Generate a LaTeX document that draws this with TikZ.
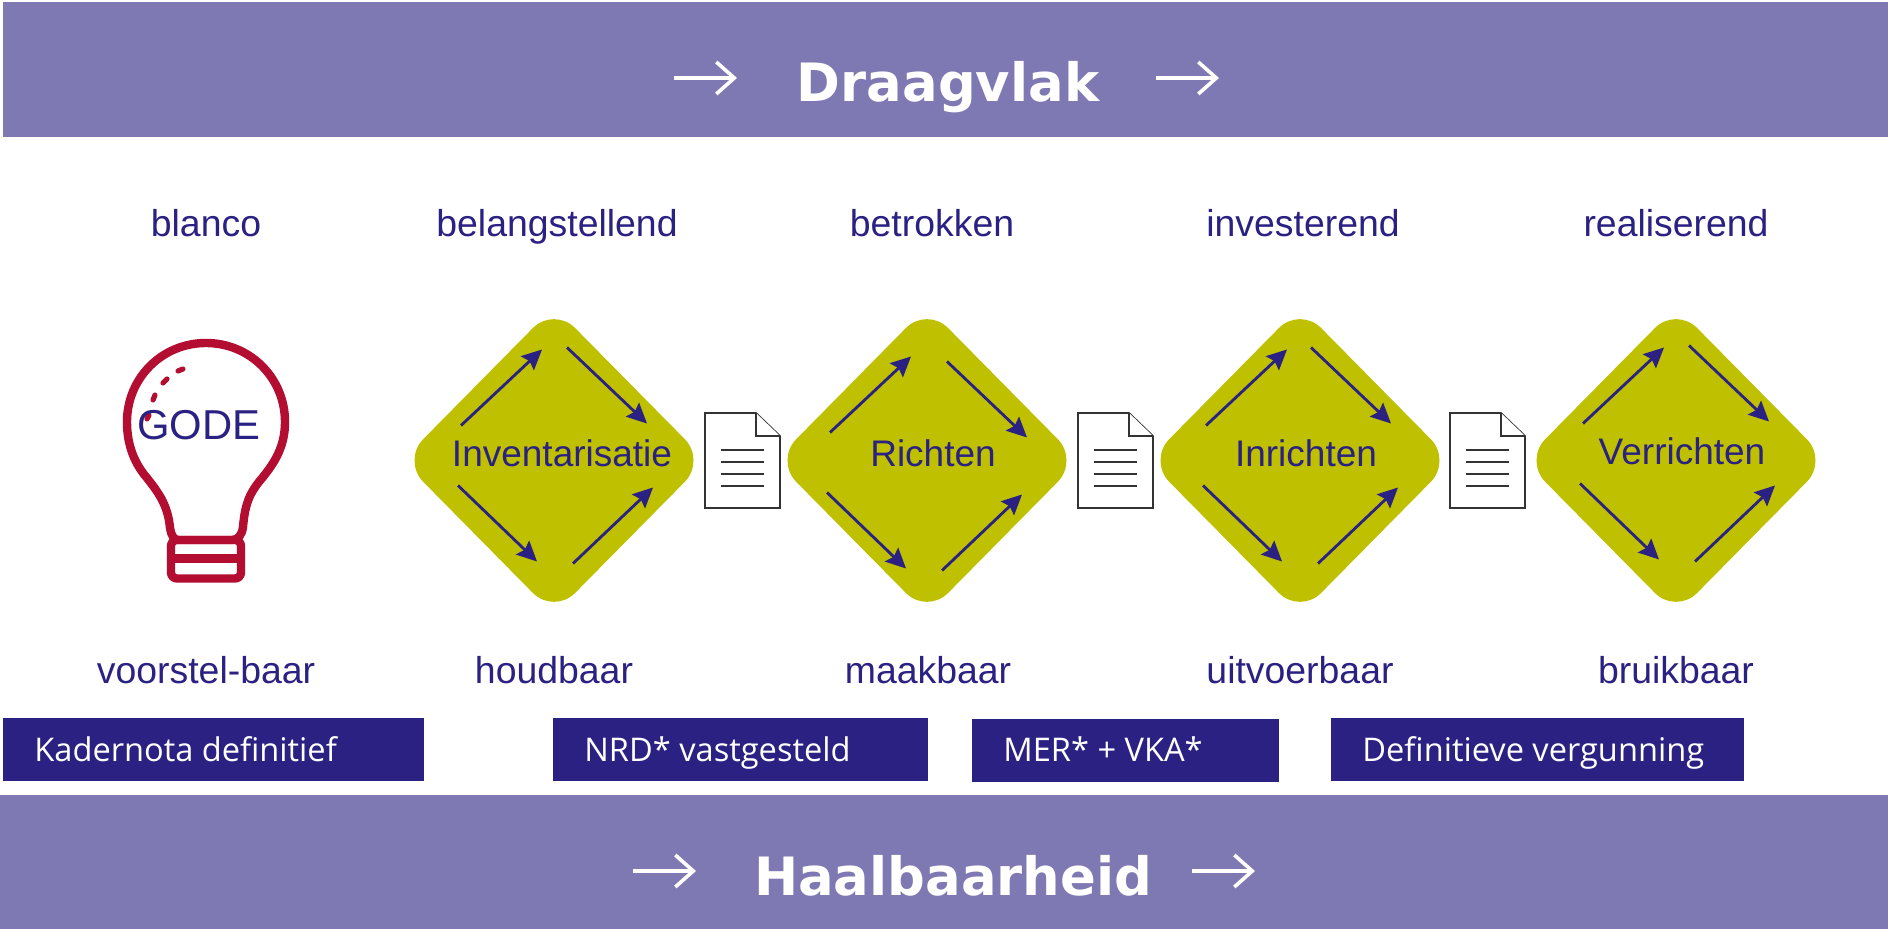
\documentclass[tikz,border=0pt]{standalone}
\usepackage{fontspec}
\setmainfont{Liberation Sans}
\newfontfamily\barfont{DejaVu Sans}
\newfontfamily\boxfont{Open Sans}
\usetikzlibrary{arrows.meta, calc, shapes.geometric}
\definecolor{barpurple}{HTML}{7F79B3}
\definecolor{plateaugreen}{HTML}{BFC000}
\definecolor{navy}{HTML}{2A2182}
\definecolor{bulbred}{HTML}{B30D32}
\tikzstyle{bar} = [fill=barpurple, draw=none]
\tikzstyle{bartext} = [font=\barfont\bfseries\fontsize{26.4}{30}\selectfont, text=white, anchor=base, inner sep=0pt]
\tikzstyle{barpath} = [-{Straight Barb[length=9pt, width=16pt, line width=1.8pt]}, white, line width=1.8pt]
\tikzstyle{word} = [font=\fontsize{18.7}{22}\selectfont, text=navy, anchor=base, inner sep=0pt]
\tikzstyle{plateauword} = [word, font=\fontsize{18.5}{22}\selectfont, anchor=center]
\tikzstyle{plateau} = [diamond, fill=plateaugreen, rounded corners=15pt, minimum width=152pt, minimum height=154pt, inner sep=0pt]
\tikzstyle{path} = [-{Stealth[length=10pt, width=9.5pt, inset=1.5pt]}, navy, line width=1.4pt]
\tikzstyle{result} = [fill=navy, draw=none]
\tikzstyle{resulttext} = [font=\boxfont\fontsize{16.3}{20}\selectfont, text=white, anchor=base west, inner sep=0pt]
\tikzstyle{sheet} = [draw=black!80, fill=white, line width=0.85pt]
\tikzstyle{bulb} = [draw=bulbred, line width=4.2pt, line join=round]
\tikzstyle{glint} = [bulbred, line width=2.6pt, line cap=round]

\begin{document}
\begin{tikzpicture}[x=0.5pt, y=-0.5pt]
    \useasboundingbox (0,0) rectangle (1888,929);

    % Bars.
    \fill [bar] (3,2) rectangle (1888,137);
    \fill [bar] (0,795) rectangle (1888,929);
    \node (draagvlak) [bartext] at (948,102) {Draagvlak};
    \node (haalbaarheid) [bartext] at (953,895) {Haalbaarheid};
    \foreach\n/\a/\y in {topl/674/78, topr/1156/78, botl/633/871, botr/1192/871} {
        \coordinate (\n a) at (\a,\y);
        \coordinate (\n b) at ($(\n a)+(63,0)$);
        \draw [barpath] (\n a) -- (\n b);
    }

    % Words above and below.
    \foreach\n/\x/\t in {a/206/blanco, b/557/belangstellend, c/932/betrokken, d/1303/investerend, e/1676/realiserend} {
        \node (top\n) [word] at (\x,237) {\t};
    }
    \foreach\n/\x/\t in {a/206/voorstel-baar, b/554/houdbaar, c/928/maakbaar, d/1300/uitvoerbaar, e/1676/bruikbaar} {
        \node (low\n) [word] at (\x,683) {\t};
    }

    % Plateaus with their arrows.
    \foreach\n/\x/\t/\tx/\ty/\dx/\dy/\ex/\ey in {
        inv/554/Inventarisatie/562/453/0/0/0/0,
        ric/927/Richten/933/453/-4/7/11/7,
        inr/1300/Inrichten/1306/453/-1/0/-1/0,
        ver/1676/Verrichten/1682/451/0/-2/0/0} {
        \node (\n) [plateau] at (\x,460.5) {};
        \node (\n text) [plateauword] at (\tx,\ty) {\t};
        \coordinate (\n a) at ($(\n)+(-93+\dx,-35+\dy)$);
        \coordinate (\n b) at ($(\n)+(-12+\dx,-111+\dy)$);
        \coordinate (\n c) at ($(\n)+(13+\dx+\ex,-113+\dy+\ey)$);
        \coordinate (\n d) at ($(\n)+(93+\dx+\ex,-37+\dy+\ey)$);
        \coordinate (\n e) at ($(\n)+(-96+\dx,25+\dy)$);
        \coordinate (\n f) at ($(\n)+(-17+\dx,101+\dy)$);
        \coordinate (\n g) at ($(\n)+(19+\dx,103+\dy)$);
        \coordinate (\n h) at ($(\n)+(99+\dx,27+\dy)$);
        \draw [path] (\n a) -- (\n b);
        \draw [path] (\n c) -- (\n d);
        \draw [path] (\n e) -- (\n f);
        \draw [path] (\n g) -- (\n h);
    }

    % Sheets.
    \foreach\x in {705, 1078, 1450} {
        \draw [sheet, line join=miter] (\x,413) -- ++(51,0) -- ++(24,23) -- ++(0,72) -- ++(-75,0) -- cycle;
        \draw [sheet] (\x+51,413) -- ++(0,23) -- ++(24,0);
        \foreach\y in {450, 462, 474, 486} {
            \draw [black!80, line width=1.25pt] (\x+16,\y) -- ++(43,0);
        }
    }

    % Bulb.
    \draw [bulb] (170,528) .. controls (168,505) and (158,492) .. (147,478)
        .. controls (135,464) and (127,446) .. (127,422)
        .. controls (127,378) and (162,343) .. (206,343)
        .. controls (250,343) and (285,378) .. (285,422)
        .. controls (285,446) and (275,462) .. (263,477)
        .. controls (250,492) and (245,503) .. (243,527)
        .. controls (242,535) and (238,540) .. (232,540)
        -- (178,540) .. controls (174,540) and (171,535) .. (170,528) -- cycle;
    \draw [bulb, rounded corners=3pt] (171,540) rectangle (241,578.5);
    \draw [bulb] (171,558.5) -- (241,558.5);
    \draw [glint] (178,371) -- (183,369);
    \draw [glint] (163,383) -- (167,379);
    \draw [glint] (153,400) -- (155,395);
    \draw [glint] (147,419) -- (149,415);
    \node (gode) [word, anchor=center, font=\fontsize{20.9}{24}\selectfont] at (199,425) {GODE};

    % Results.
    \fill [result] (3,718) rectangle (424,781);
    \fill [result] (553,718) rectangle (928,781);
    \fill [result] (972,719) rectangle (1279,782);
    \fill [result] (1331,718) rectangle (1744,781);
    \node (kader) [resulttext] at (34,761) {Kadernota definitief};
    \node (nrd) [resulttext] at (584,761) {NRD* vastgesteld};
    \node (mer) [resulttext] at (1003,761) {MER* + VKA*};
    \node (vergunning) [resulttext] at (1362,761) {Definitieve vergunning};
\end{tikzpicture}
\end{document}
